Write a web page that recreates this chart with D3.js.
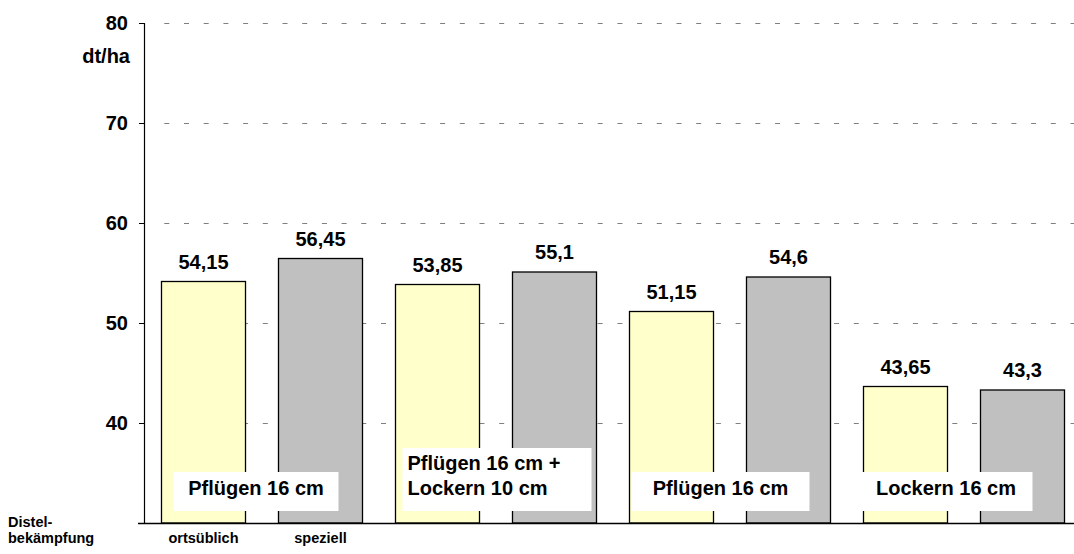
<!DOCTYPE html>
<html>
<head>
<meta charset="utf-8">
<script src="https://cdn.jsdelivr.net/npm/d3@7"></script>
<style>
  body { margin: 0; background: #fff; }
  svg { display: block; font-family: "Liberation Sans", Arial, sans-serif; font-weight: bold; }
</style>
</head>
<body>
<div id="chart"></div>
<script>
// Data
const bars = ["b1", "b2", "b3", "b4", "b5", "b6", "b7", "b8"];
const values = [54.15, 56.45, 53.85, 55.1, 51.15, 54.6, 43.65, 43.3];
const methods = ["ortsüblich", "speziell"];
const variants = [["Pflügen 16 cm"], ["Pflügen 16 cm +", "Lockern 10 cm"], ["Pflügen 16 cm"], ["Lockern 16 cm"]];
const yTicks = [40, 50, 60, 70, 80];

const W = 1074, H = 554;
const svg = d3.select("#chart").append("svg").attr("width", W).attr("height", H);

const x = d3.scaleBand().domain(bars).range([145, 1081]).paddingInner(0.282).paddingOuter(0.141);
const y = d3.scaleLinear().domain([30, 80]).range([523, 23]);

// dashed grid lines
svg.append("g").selectAll("line").data(yTicks).enter().append("line")
    .attr("x1", 160).attr("x2", W)
    .attr("y1", d => Math.round(y(d)) + 0.5).attr("y2", d => Math.round(y(d)) + 0.5)
    .attr("stroke", "#808080").attr("stroke-width", 1)
    .attr("stroke-dasharray", "5,14.7").attr("stroke-dashoffset", -4.3);

// y axis
svg.append("line").attr("x1", 144.5).attr("x2", 144.5).attr("y1", y(80)).attr("y2", y(30))
    .attr("stroke", "#000").attr("stroke-width", 1.2);
svg.append("g").selectAll("line").data(yTicks).enter().append("line")
    .attr("x1", 139).attr("x2", 145)
    .attr("y1", d => Math.round(y(d)) + 0.5).attr("y2", d => Math.round(y(d)) + 0.5)
    .attr("stroke", "#000");
svg.append("g").selectAll("text").data(yTicks).enter().append("text")
    .attr("x", 128).attr("y", d => y(d) + 7)
    .attr("text-anchor", "end").attr("font-size", 20)
    .text(d => d);
svg.append("text").attr("x", 130).attr("y", 63).attr("text-anchor", "end")
    .attr("font-size", 20).text("dt/ha");

// bars
svg.append("g").selectAll("rect").data(values).enter().append("rect")
    .attr("x", (d, i) => x(bars[i]))
    .attr("y", d => y(d))
    .attr("width", x.bandwidth())
    .attr("height", d => y(30) - y(d))
    .attr("fill", (d, i) => i % 2 === 0 ? "#FFFFCC" : "#C0C0C0")
    .attr("stroke", "#000").attr("stroke-width", 1.3);

// value labels
svg.append("g").selectAll("text").data(values).enter().append("text")
    .attr("x", (d, i) => x(bars[i]) + x.bandwidth() / 2)
    .attr("y", d => y(d) - 13)
    .attr("text-anchor", "middle").attr("font-size", 20)
    .text(d => String(d).replace(".", ","));

// x baseline
svg.append("line").attr("x1", 138).attr("x2", W).attr("y1", 523.5).attr("y2", 523.5)
    .attr("stroke", "#000").attr("stroke-width", 1.3);

// variant boxes (manually placed text boxes)
const boxLayout = [
  { dx: 12, w: 165, top: 472, anchor: "middle" },
  { dx: 7, w: 189, top: 448, anchor: "start" },
  { dx: 2, w: 178, top: 472, anchor: "middle" },
  { dx: -4, w: 173, top: 472, anchor: "middle" }
];
variants.forEach((lines, i) => {
  const b = boxLayout[i];
  const left = x(bars[i * 2]) + b.dx;
  const g = svg.append("g");
  g.append("rect").attr("x", left).attr("y", b.top).attr("width", b.w).attr("height", 511 - b.top)
      .attr("fill", "#fff");
  const tx = b.anchor === "middle" ? left + b.w / 2 : left + 5;
  lines.forEach((t, j) => {
    g.append("text").attr("x", tx).attr("y", lines.length > 1 ? 470 + j * 25 : 495)
        .attr("text-anchor", b.anchor).attr("font-size", 20).text(t);
  });
});

// bottom labels
svg.append("text").attr("x", 8).attr("y", 527).attr("font-size", 14.5).text("Distel-");
svg.append("text").attr("x", 8).attr("y", 543).attr("font-size", 14.5).text("bekämpfung");
svg.append("g").selectAll("text").data(methods).enter().append("text")
    .attr("x", (d, i) => x(bars[i]) + x.bandwidth() / 2)
    .attr("y", 543).attr("text-anchor", "middle").attr("font-size", 14.5)
    .text(d => d);
</script>
</body>
</html>
